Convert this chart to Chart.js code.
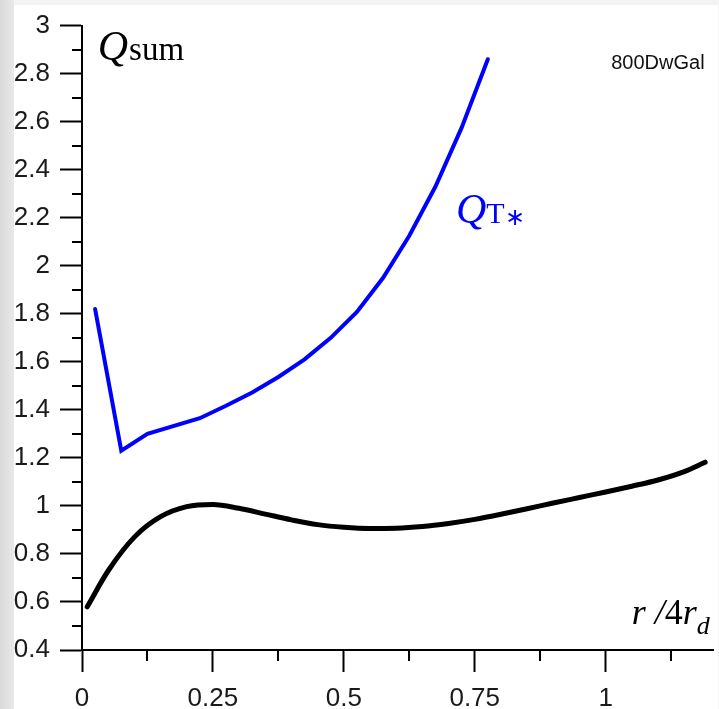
<!DOCTYPE html>
<html>
<head>
<meta charset="utf-8">
<script src="https://cdn.jsdelivr.net/npm/chart.js"></script>
<style>
  html, body { margin: 0; padding: 0; }
  body {
    width: 719px; height: 709px; overflow: hidden; position: relative;
    background: linear-gradient(to right, #d9d9d9 0px, #e9e9e9 14px, #f3f3f3 14px);
  }
  #panel { position: absolute; left: 14px; top: 5px; width: 704px; height: 704px; background: #fff; }
  #c { position: absolute; left: 0; top: 0; }
</style>
</head>
<body>
<div id="panel"></div>
<canvas id="c" width="719" height="709"></canvas>
<script>
// Q_T* (blue polyline)
const qtX = [0.025, 0.075, 0.125, 0.225, 0.275, 0.325, 0.375, 0.425, 0.475, 0.525, 0.575, 0.625, 0.675, 0.725, 0.775];
const qtY = [1.82, 1.23, 1.30, 1.365, 1.417, 1.472, 1.537, 1.610, 1.700, 1.808, 1.950, 2.125, 2.330, 2.575, 2.86];

// Q_sum (black smooth curve)
const qsX = [0.01, 0.05, 0.10, 0.15, 0.20, 0.25, 0.30, 0.35, 0.40, 0.45, 0.50, 0.55, 0.60, 0.65, 0.70, 0.75, 0.80, 0.85, 0.90, 0.95, 1.00, 1.05, 1.10, 1.15, 1.19];
const qsY = [0.58, 0.73, 0.87, 0.955, 0.997, 1.006, 0.990, 0.966, 0.942, 0.922, 0.911, 0.906, 0.907, 0.914, 0.927, 0.944, 0.965, 0.988, 1.012, 1.035, 1.058, 1.082, 1.108, 1.143, 1.182];

const yMinor = [0.5, 0.7, 0.9, 1.1, 1.3, 1.5, 1.7, 1.9, 2.1, 2.3, 2.5, 2.7, 2.9];
const xMinor = [0.125, 0.375, 0.625, 0.875, 1.125];

const toPts = (xs, ys) => xs.map((x, i) => ({x: x, y: ys[i]}));

const extras = {
  id: 'extras',
  afterDraw(chart) {
    const ctx = chart.ctx;
    const xs = chart.scales.x, ys = chart.scales.y;
    ctx.save();
    ctx.strokeStyle = '#000';
    ctx.lineWidth = 2;
    ctx.beginPath();
    yMinor.forEach(v => {
      const py = Math.round(ys.getPixelForValue(v));
      ctx.moveTo(xs.left - 10, py); ctx.lineTo(xs.left, py);
    });
    xMinor.forEach(v => {
      const px = Math.round(xs.getPixelForValue(v));
      ctx.moveTo(px, ys.bottom); ctx.lineTo(px, ys.bottom + 11);
    });
    ctx.stroke();

    ctx.textBaseline = 'alphabetic';
    // Q_sum
    let px = xs.getPixelForValue(0.03), py = ys.getPixelForValue(2.856);
    ctx.fillStyle = '#000';
    ctx.font = 'italic 42px "Liberation Serif"';
    ctx.fillText('Q', px, py);
    let w = ctx.measureText('Q').width;
    ctx.font = '33px "Liberation Serif"';
    ctx.fillText('sum', px + w + 1, py);

    // Q_T*
    px = xs.getPixelForValue(0.714); py = ys.getPixelForValue(2.179);
    ctx.fillStyle = '#0000ff';
    ctx.font = 'italic 42px "Liberation Serif"';
    ctx.fillText('Q', px, py);
    w = ctx.measureText('Q').width;
    ctx.font = '30px "Liberation Serif"';
    ctx.fillText('T', px + w, py);
    const w2 = ctx.measureText('T').width;
    ctx.font = '24px "Liberation Serif"';
    ctx.fillText('\u2217', px + w + w2, py + 2);

    // 800DwGal
    ctx.fillStyle = '#111';
    ctx.font = '20px "Liberation Sans"';
    ctx.textAlign = 'right';
    ctx.fillText('800DwGal', xs.getPixelForValue(1.189), ys.getPixelForValue(2.82));

    // r /4r_d
    ctx.textAlign = 'left';
    ctx.fillStyle = '#000';
    px = xs.getPixelForValue(1.05); py = ys.getPixelForValue(0.507);
    ctx.font = 'italic 36px "Liberation Serif"';
    ctx.fillText('r', px, py); px += ctx.measureText('r ').width;
    ctx.fillText('/', px, py); px += ctx.measureText('/').width;
    ctx.font = '36px "Liberation Serif"';
    ctx.fillText('4', px, py); px += ctx.measureText('4').width;
    ctx.font = 'italic 36px "Liberation Serif"';
    ctx.fillText('r', px, py); px += ctx.measureText('r').width;
    ctx.font = 'italic 26px "Liberation Serif"';
    ctx.fillText('d', px, py + 10);
    ctx.restore();
  }
};

new Chart(document.getElementById('c'), {
  type: 'scatter',
  data: {
    datasets: [
      {
        data: toPts(qtX, qtY),
        showLine: true,
        borderColor: '#0000ff',
        borderWidth: 4,
        pointRadius: 0,
        tension: 0,
        borderCapStyle: 'round'
      },
      {
        data: toPts(qsX, qsY),
        showLine: true,
        borderColor: '#000',
        borderWidth: 5,
        pointRadius: 0,
        cubicInterpolationMode: 'monotone',
        borderCapStyle: 'round'
      }
    ]
  },
  options: {
    responsive: false,
    animation: false,
    layout: { padding: { top: 20, right: 6, left: 0, bottom: 0 } },
    plugins: { legend: { display: false }, tooltip: { enabled: false } },
    scales: {
      x: {
        type: 'linear',
        min: 0,
        max: 1.205,
        border: { color: '#000', width: 2 },
        grid: { drawOnChartArea: false, tickLength: 22, tickWidth: 2, tickColor: '#000' },
        ticks: {
          stepSize: 0.25,
          includeBounds: false,
          color: '#1a1a1a',
          padding: 11,
          maxRotation: 0,
          font: { family: '"Liberation Sans"', size: 26 },
          callback: v => String(Math.round(v * 100) / 100)
        },
        afterFit(scale) { scale.height = 59; }
      },
      y: {
        min: 0.4,
        max: 3,
        border: { color: '#000', width: 2 },
        grid: { drawOnChartArea: false, tickLength: 22, tickWidth: 2, tickColor: '#000' },
        ticks: {
          stepSize: 0.2,
          color: '#1a1a1a',
          padding: 10,
          font: { family: '"Liberation Sans"', size: 26 },
          callback: v => String(Math.round(v * 10) / 10)
        },
        afterFit(scale) { scale.width = 82; }
      }
    }
  },
  plugins: [extras]
});
</script>
</body>
</html>
